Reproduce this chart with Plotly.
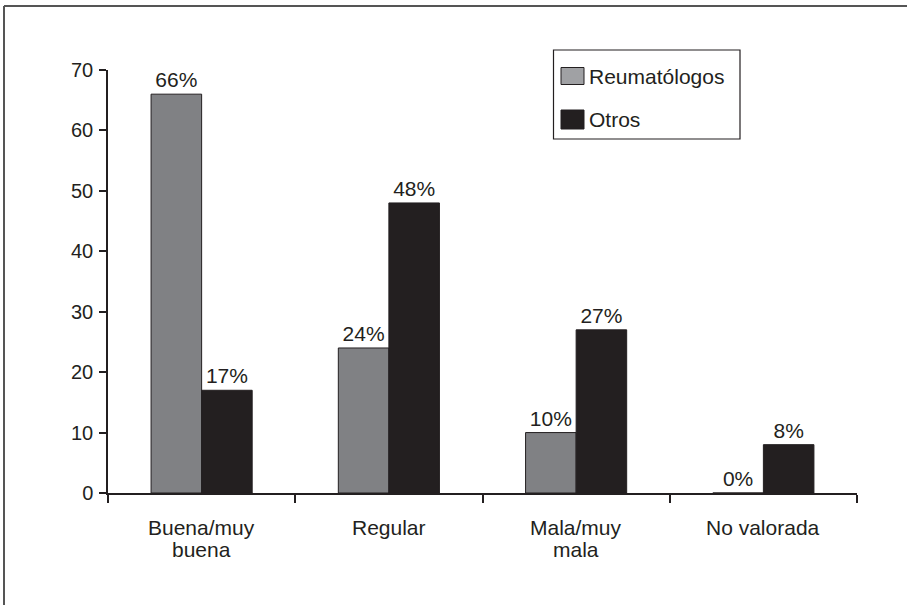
import plotly.graph_objects as go

# Data
categories = ["Buena/muy buena", "Regular", "Mala/muy mala", "No valorada"]
category_lines = [["Buena/muy", "buena"], ["Regular"], ["Mala/muy", "mala"], ["No valorada"]]
reumatologos = [66, 24, 10, 0]
otros = [17, 48, 27, 8]
series_names = ["Reumatólogos", "Otros"]
y_ticks = [0, 10, 20, 30, 40, 50, 60, 70]

W, H = 907, 605
L, R, T, B = 108, 50, 70, 112
PW, PH = W - L - R, H - T - B

INK = "#231f20"
GRAY = "#808184"
FONT = "Liberation Sans, Arial, Helvetica, sans-serif"
FS = 21


def px(x):
    return (x - L) / PW


def py(y):
    return (H - B - y) / PH


fig = go.Figure()
for name, vals, color in [(series_names[0], reumatologos, GRAY), (series_names[1], otros, INK)]:
    fig.add_trace(go.Bar(
        x=categories, y=vals, name=name,
        marker=dict(color=color, line=dict(color=INK, width=1)),
        text=[f"{v}%" for v in vals], textposition="outside",
        textfont=dict(size=FS, color=INK, family=FONT),
        cliponaxis=False, showlegend=False,
    ))

shapes = [
    # outer frame (top and left edges)
    dict(type="line", xref="paper", yref="paper", x0=px(4), x1=px(910), y0=py(6), y1=py(6),
         line=dict(color="#555555", width=2)),
    dict(type="line", xref="paper", yref="paper", x0=px(4), x1=px(4), y0=py(6), y1=py(610),
         line=dict(color="#555555", width=2)),
    # legend box
    dict(type="rect", xref="paper", yref="paper", x0=px(553.5), x1=px(740), y0=py(50), y1=py(139),
         line=dict(color=INK, width=1.2), fillcolor="white"),
    # legend swatches
    dict(type="rect", xref="paper", yref="paper", x0=px(561), x1=px(584), y0=py(67.5), y1=py(84.5),
         line=dict(color=INK, width=1), fillcolor="#a0a1a4"),
    dict(type="rect", xref="paper", yref="paper", x0=px(561), x1=px(584), y0=py(110), y1=py(129),
         line=dict(color=INK, width=1), fillcolor=INK),
]

annotations = [
    dict(xref="paper", yref="paper", x=px(587), y=py(76), text=series_names[0], showarrow=False,
         xanchor="left", yanchor="middle", font=dict(size=FS, color=INK, family=FONT)),
    dict(xref="paper", yref="paper", x=px(587), y=py(120), text=series_names[1], showarrow=False,
         xanchor="left", yanchor="middle", font=dict(size=FS, color=INK, family=FONT)),
]

# category labels, one annotation per line for tight line spacing
for cat, lines in zip(categories, category_lines):
    for i, line in enumerate(lines):
        annotations.append(dict(
            xref="x", yref="paper", x=cat, y=py(527 + 22 * i), text=line, showarrow=False,
            xanchor="center", yanchor="middle", font=dict(size=FS, color=INK, family=FONT),
        ))

fig.update_layout(
    width=W, height=H,
    margin=dict(l=L, r=R, t=T, b=B, pad=0),
    paper_bgcolor="white", plot_bgcolor="white",
    barmode="group", bargap=0.46, bargroupgap=0,
    shapes=shapes, annotations=annotations,
    font=dict(family=FONT, size=FS, color=INK),
    showlegend=False,
)
fig.update_xaxes(
    showline=True, linecolor=INK, linewidth=1.5,
    ticks="outside", tickson="boundaries", ticklen=8, tickcolor=INK, tickwidth=1.5,
    showticklabels=False, showgrid=False, zeroline=False,
)
fig.update_yaxes(
    range=[0, 70], tickvals=y_ticks, showline=True, linecolor=INK, linewidth=1.5,
    ticks="outside", ticklen=7, tickcolor=INK, tickwidth=1.5,
    tickfont=dict(size=20, color=INK, family=FONT), ticklabelstandoff=2,
    showgrid=False, zeroline=False,
)

fig.write_html("out.html")
